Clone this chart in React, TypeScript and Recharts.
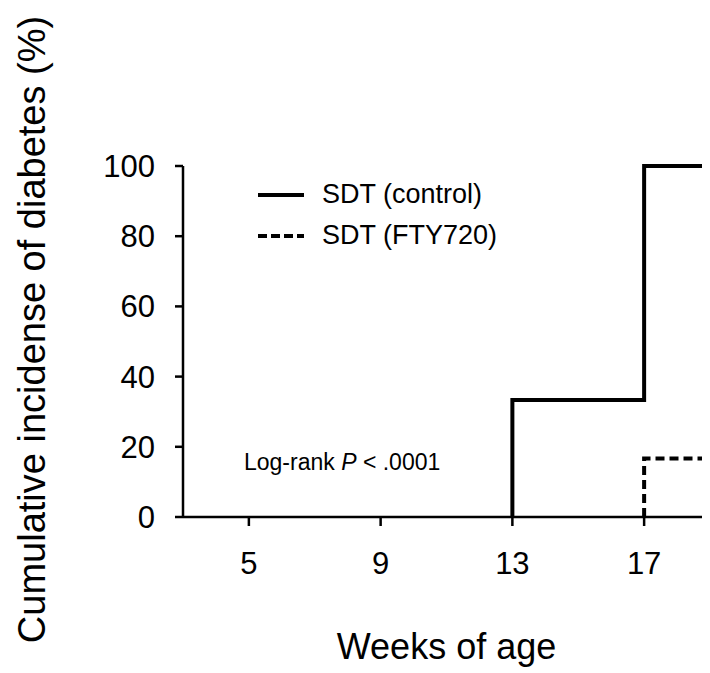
import React from 'react';
import { LineChart, Line, XAxis, YAxis, Label } from 'recharts';

const seriesNames = ['SDT (control)', 'SDT (FTY720)'];
const controlWeeks = [13, 13, 17, 17, 18.8];
const controlValues = [0, 33.3, 33.3, 100, 100];
const ftyWeeks = [17, 17, 18.8];
const ftyValues = [0, 16.7, 16.7];
const xTicks = [5, 9, 13, 17];
const yTicks = [0, 20, 40, 60, 80, 100];

const controlData = controlWeeks.map((x, i) => ({ x, y: controlValues[i] }));
const ftyData = ftyWeeks.map((x, i) => ({ x, y: ftyValues[i] }));

const FONT = 'Liberation Sans, Arial, sans-serif';

export default function App() {
  return (
    <div style={{ position: 'relative', width: 702, height: 665 }}>
      <LineChart width={702} height={665} margin={{ top: 158, right: 0, bottom: 0, left: 0 }}>
        <XAxis type="number" dataKey="x" domain={[3, 19]} ticks={xTicks} allowDataOverflow
          height={156} tickSize={9} tickMargin={26}
          axisLine={{ stroke: '#000', strokeWidth: 2.5 }} tickLine={{ stroke: '#000', strokeWidth: 2.5 }}
          tick={{ fill: '#000', fontSize: 31, fontFamily: FONT }}>
          <Label value="Weeks of age" position="insideBottom" offset={14}
            style={{ fill: '#000', fontSize: 36, fontFamily: FONT }} />
        </XAxis>
        <YAxis type="number" dataKey="y" domain={[0, 100]} ticks={yTicks} width={175}
          tickSize={8} tickMargin={20}
          axisLine={{ stroke: '#000', strokeWidth: 2.5 }} tickLine={{ stroke: '#000', strokeWidth: 2.5 }}
          tick={{ fill: '#000', fontSize: 31, fontFamily: FONT }}>
          <Label content={(props: any) => {
            const vb = props.viewBox || { x: 0, y: 158, width: 175, height: 351 };
            const cx = 24;
            const cy = vb.y + vb.height / 2 - 12;
            return (
              <text x={cx} y={cy} transform={`rotate(-90 ${cx} ${cy})`} textAnchor="middle"
                dominantBaseline="central" fill="#000" fontSize={38} fontFamily={FONT}>
                Cumulative incidense of diabetes (%)
              </text>
            );
          }} />
        </YAxis>
        <Line data={controlData} dataKey="y" type="linear" stroke="#000" strokeWidth={4}
          dot={false} isAnimationActive={false} strokeLinejoin="miter" strokeLinecap="butt" />
        <Line data={ftyData} dataKey="y" type="linear" stroke="#000" strokeWidth={4}
          strokeDasharray="9 5" dot={false} isAnimationActive={false} />
      </LineChart>
      <div style={{ position: 'absolute', left: 250, top: 166, fontFamily: FONT, fontSize: 27, color: '#000' }}>
        {seriesNames.map((n, i) => (
          <div key={n} style={{ display: 'flex', alignItems: 'center', height: 41 }}>
            <svg width={64} height={10}>
              <line x1={0} y1={5} x2={46} y2={5} stroke="#000" strokeWidth={4}
                strokeDasharray={i === 1 ? '9 4' : undefined} />
            </svg>
            <span>{n}</span>
          </div>
        ))}
      </div>
      <div style={{ position: 'absolute', left: 236, top: 441, fontFamily: FONT, fontSize: 23, color: '#000', whiteSpace: 'nowrap' }}>
        Log-rank <i>P</i> &lt; .0001
      </div>
    </div>
  );
}
